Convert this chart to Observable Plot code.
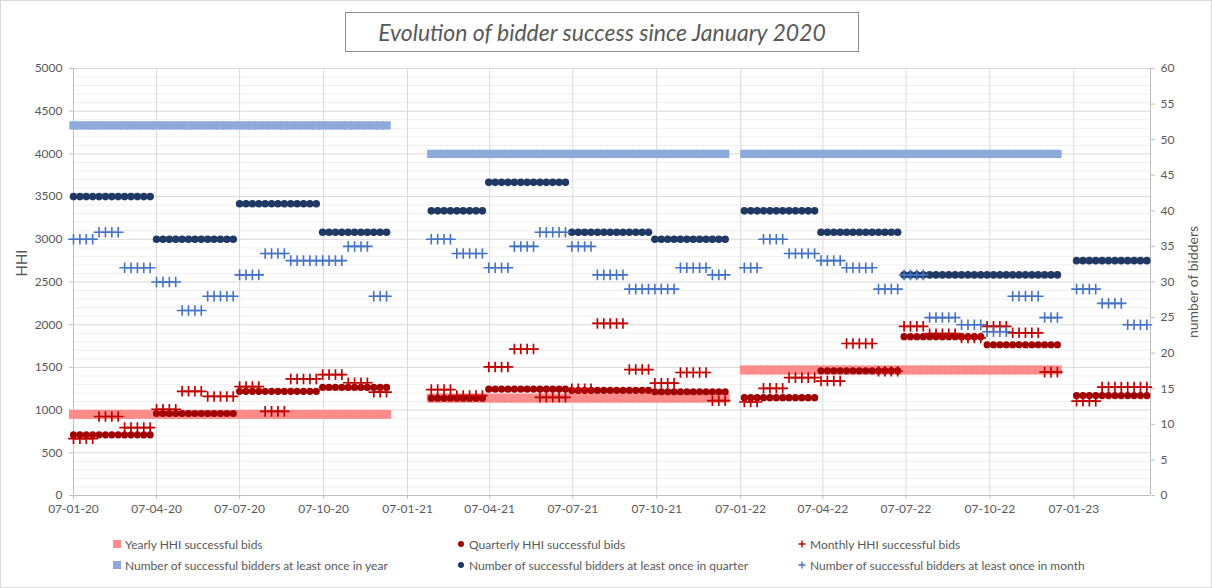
<!DOCTYPE html>
<html><head><meta charset="utf-8">
<script src="https://cdn.jsdelivr.net/npm/d3@7"></script>
<script src="https://cdn.jsdelivr.net/npm/@observablehq/plot@0.6"></script>
<style>
html,body{margin:0;padding:0;background:#fff;}
#chart{position:relative;width:1212px;height:588px;overflow:hidden;font-family:Lato,"Liberation Sans",sans-serif;color:#595959;}
#border{position:absolute;left:0;top:0;width:1212px;height:588px;box-sizing:border-box;border:1px solid #d9d9d9;pointer-events:none;}
#title{position:absolute;left:345px;top:12px;width:514px;height:40px;box-sizing:border-box;border:1px solid #8c8c8c;font-style:italic;font-size:23px;line-height:38px;text-align:center;color:#595959;white-space:nowrap;}
#plot{position:absolute;left:0;top:55px;}
.ytitle{position:absolute;font-size:15px;white-space:nowrap;transform:translate(-50%,-50%) rotate(-90deg);color:#595959;}
.leg{position:absolute;font-size:12px;white-space:nowrap;color:#595959;display:flex;align-items:center;height:16px;}
.leg svg{margin-right:4px;}
</style>
</head><body>
<div id="chart">
  <div id="title">Evolution of bidder success since January 2020</div>
  <div id="plot"></div>
  <div class="ytitle" style="left:21px;top:263px;">HHI</div>
  <div class="ytitle" style="left:1192px;top:282px;font-size:14px;">number of bidders</div>
  <div id="legend"></div>
  <div id="border"></div>
</div>
<script>
// ---- data ----
// weekly auction periods (first and last auction date of each block)
const auctionPeriods = [
  ["2020-01-07", "2020-12-15"],
  ["2021-02-02", "2021-12-21"],
  ["2022-01-11", "2022-12-20"],
  ["2023-01-10", "2023-03-28"]
];
const months = [
  "2020-01","2020-02","2020-03","2020-04","2020-05","2020-06","2020-07","2020-08","2020-09","2020-10","2020-11","2020-12",
  "2021-02","2021-03","2021-04","2021-05","2021-06","2021-07","2021-08","2021-09","2021-10","2021-11","2021-12",
  "2022-01","2022-02","2022-03","2022-04","2022-05","2022-06","2022-07","2022-08","2022-09","2022-10","2022-11","2022-12",
  "2023-01","2023-02","2023-03"
];
const monthlyHHI = [
  665, 925, 795, 1010, 1220, 1160, 1275, 985, 1365, 1415, 1320, 1210,
  1240, 1170, 1505, 1715, 1150, 1250, 2015, 1475, 1315, 1440, 1110,
  1095, 1255, 1380, 1340, 1780, 1455, 1980, 1895, 1845, 1980, 1905, 1445,
  1105, 1270, 1270
];
const monthlyBidders = [
  36, 37, 32, 30, 26, 28, 31, 34, 33, 33, 35, 28,
  36, 34, 32, 35, 37, 35, 31, 29, 29, 32, 31,
  32, 36, 34, 33, 32, 29, 31, 25, 24, 23, 28, 25,
  29, 27, 24
];
const quarters = ["2020-Q1","2020-Q2","2020-Q3","2020-Q4","2021-Q1","2021-Q2","2021-Q3","2021-Q4","2022-Q1","2022-Q2","2022-Q3","2022-Q4","2023-Q1"];
const quarterlyHHI = [710, 960, 1220, 1265, 1140, 1245, 1230, 1215, 1145, 1460, 1860, 1765, 1170];
const quarterlyBidders = [42, 36, 41, 37, 40, 44, 37, 36, 40, 37, 31, 31, 33];
const years = ["2020", "2021", "2022"];
const yearlyHHI = [950, 1140, 1470];
const yearlyBidders = [52, 48, 48];
const xTickDates = ["2020-01-07","2020-04-07","2020-07-07","2020-10-07","2021-01-07","2021-04-07","2021-07-07","2021-10-07","2022-01-07","2022-04-07","2022-07-07","2022-10-07","2023-01-07"];
const hhiTicks = [0,500,1000,1500,2000,2500,3000,3500,4000,4500,5000];
const bidderTicks = [0,5,10,15,20,25,30,35,40,45,50,55,60];

// ---- build table ----
const k = 5000 / 60; // bidders -> HHI axis
const mMap = new Map(months.map((m, i) => [m, i]));
const qMap = new Map(quarters.map((q, i) => [q, i]));
const yMap = new Map(years.map((y, i) => [y, i]));
const fmtM = d3.utcFormat("%Y-%m");
const rows = auctionPeriods.flatMap(([a, b]) =>
  d3.utcDay.range(new Date(a), d3.utcDay.offset(new Date(b), 1), 7)
).map(date => {
  const m = fmtM(date), y = String(date.getUTCFullYear());
  const q = y + "-Q" + (Math.floor(date.getUTCMonth() / 3) + 1);
  const mi = mMap.get(m), qi = qMap.get(q), yi = yMap.get(y);
  return {
    date,
    mHHI: mi == null ? null : monthlyHHI[mi],
    mBid: mi == null ? null : monthlyBidders[mi],
    qHHI: qi == null ? null : quarterlyHHI[qi],
    qBid: qi == null ? null : quarterlyBidders[qi],
    yHHI: yi == null ? null : yearlyHHI[yi],
    yBid: yi == null ? null : yearlyBidders[yi]
  };
});
const has = f => rows.filter(r => r[f] != null);

const x0 = new Date("2020-01-07"), x1 = new Date("2023-04-01");
const C = {
  yHHI: "#ff8b8b", qHHI: "#a00000", mHHI: "#c00000",
  yBid: "#8eaadb", qBid: "#203864", mBid: "#4472c4"
};

const chart = Plot.plot({
  width: 1212, height: 470,
  marginTop: 13, marginBottom: 30, marginLeft: 73, marginRight: 62,
  style: {background: "transparent", fontFamily: "Lato, 'Liberation Sans', sans-serif", fontSize: "12px", color: "#595959", overflow: "visible"},
  x: {type: "utc", domain: [x0, x1]},
  y: {domain: [0, 5000]},
  marks: [
    Plot.gridY(d3.range(0, 5001, 100).filter(v => v % 500 !== 0), {stroke: "#efefef", strokeOpacity: 1}),
    Plot.gridY(hhiTicks.slice(1), {stroke: "#d9d9d9", strokeOpacity: 1}),
    Plot.gridX(xTickDates.map(d => new Date(d)).slice(1), {stroke: "#d9d9d9", strokeOpacity: 1}),
    Plot.ruleY([0], {stroke: "#bfbfbf"}),
    Plot.ruleX([x0, x1], {stroke: "#bfbfbf"}),
    Plot.axisY(hhiTicks, {anchor: "left", tickSize: 4, tickPadding: 7, label: null, tickFormat: v => String(v), stroke: "#bfbfbf", fill: "#595959", fontSize: 12}),
    Plot.axisY(bidderTicks.map(v => v * k), {anchor: "right", tickSize: 4, tickPadding: 6, label: null, tickFormat: v => String(Math.round(v / k)), stroke: "#bfbfbf", fill: "#595959", fontSize: 12}),
    Plot.axisX(xTickDates.map(d => new Date(d)), {anchor: "bottom", tickSize: 4, tickPadding: 5, label: null, tickFormat: d3.utcFormat("%d-%m-%y"), stroke: "#bfbfbf", fill: "#595959", fontSize: 12}),
    // HHI series
    Plot.dot(has("yHHI"), {x: "date", y: "yHHI", symbol: "square", r: 5.1, fill: C.yHHI, stroke: "none"}),
    Plot.dot(has("qHHI"), {x: "date", y: "qHHI", r: 3.6, fill: C.qHHI, stroke: "none"}),
    Plot.dot(has("mHHI"), {x: "date", y: "mHHI", symbol: "plus", r: 3.5, stroke: C.mHHI, strokeWidth: 1.7, fill: "none"}),
    // bidder series (secondary axis)
    Plot.dot(has("yBid"), {x: "date", y: d => d.yBid * k, symbol: "square", r: 4.7, fill: C.yBid, stroke: "none"}),
    Plot.dot(has("qBid"), {x: "date", y: d => d.qBid * k, r: 3.8, fill: C.qBid, stroke: "none"}),
    Plot.dot(has("mBid"), {x: "date", y: d => d.mBid * k, symbol: "plus", r: 3.5, stroke: C.mBid, strokeWidth: 1.6, fill: "none"})
  ]
});
document.getElementById("plot").appendChild(chart);

// ---- legend ----
const legendItems = [
  {label: "Yearly HHI successful bids", color: C.yHHI, kind: "square", x: 113, y: 544},
  {label: "Quarterly HHI successful bids", color: C.qHHI, kind: "circle", x: 457, y: 544},
  {label: "Monthly HHI successful bids", color: C.mHHI, kind: "plus", x: 798, y: 544},
  {label: "Number of successful bidders at least once in year", color: C.yBid, kind: "square", x: 113, y: 565},
  {label: "Number of successful bidders at least once in quarter", color: C.qBid, kind: "circle", x: 457, y: 565},
  {label: "Number of successful bidders at least once in month", color: C.mBid, kind: "plus", x: 798, y: 565}
];
const leg = document.getElementById("legend");
for (const it of legendItems) {
  const div = document.createElement("div");
  div.className = "leg";
  div.style.left = it.x + "px";
  div.style.top = (it.y - 8) + "px";
  let sw;
  if (it.kind === "square") sw = `<svg width="8" height="8"><rect width="8" height="8" fill="${it.color}"/></svg>`;
  else if (it.kind === "circle") sw = `<svg width="8" height="8"><circle cx="4" cy="4" r="3" fill="${it.color}"/></svg>`;
  else sw = `<svg width="8" height="8"><path d="M0.5,4H7.5M4,0.5V7.5" stroke="${it.color}" stroke-width="1.4"/></svg>`;
  div.innerHTML = sw + `<span>${it.label}</span>`;
  leg.appendChild(div);
}
</script>
</body></html>
